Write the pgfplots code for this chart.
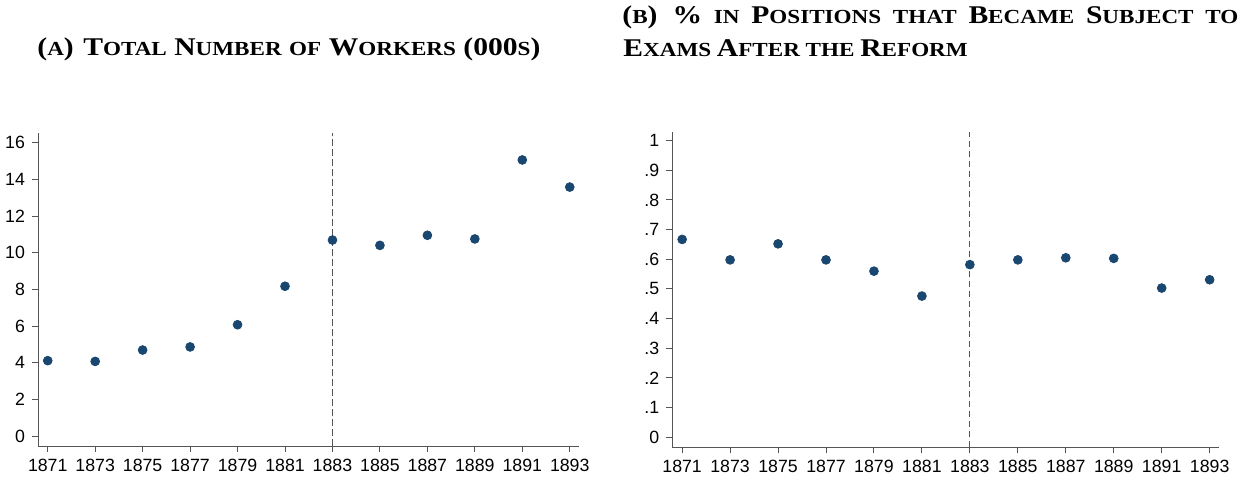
\documentclass[border=0pt]{standalone}
\usepackage{fontspec}
\setmainfont{Liberation Sans}
\newfontfamily\titlefont[FakeStretch=1.16]{Liberation Serif}
\usepackage{pgfplots}
\pgfplotsset{compat=1.18}
\definecolor{navy}{HTML}{1A476F}
\definecolor{axgray}{HTML}{555555}
\newcommand\C[1]{{\fontsize{12.8}{14}\selectfont #1}}
\pgfplotsset{stata/.style={
  scale only axis,
  axis x line*=bottom, axis y line*=left,
  axis line style={axgray, line width=0.5bp},
  tick style={axgray, line width=0.5bp},
  tick align=outside, major tick length=3bp,
  xtick={1871,1873,1875,1877,1879,1881,1883,1885,1887,1889,1891,1893},
  xticklabel style={/pgf/number format/1000 sep=},
  /pgf/number format/assume math mode=true,
  ticklabel style={font=\fontsize{8.9}{10}\selectfont, text=black},
  xmin=1870.59, xmax=1893.39,
  anchor=south west,
}}
\pgfplotstableread{
year val
1871 4.11
1873 4.07
1875 4.69
1877 4.86
1879 6.07
1881 8.17
1883 10.69
1885 10.40
1887 10.95
1889 10.75
1891 15.06
1893 13.58
}\tblA
\pgfplotstableread{
year val
1871 0.667
1873 0.598
1875 0.652
1877 0.598
1879 0.560
1881 0.476
1883 0.582
1885 0.598
1887 0.605
1889 0.603
1891 0.503
1893 0.531
}\tblB
\begin{document}
\begin{tikzpicture}
\path[use as bounding box] (0,0) rectangle (624bp,239bp);
\begin{axis}[stata, at={(19bp,16bp)}, width=270.5bp, height=156.5bp,
  ymin=-0.545, ymax=16.53, ytick={0,2,4,6,8,10,12,14,16}]
\addplot[axgray, line width=0.5bp, dash pattern=on 3.3bp off 1.7bp] coordinates {(1883,-0.545) (1883,16.53)};
\addplot[only marks, mark=*, mark size=2.2bp, mark options={draw=navy, fill=navy}] table[x=year, y=val] {\tblA};
\end{axis}
\begin{axis}[stata, at={(336.15bp,15.35bp)}, width=273.35bp, height=157.8bp,
  ymin=-0.0337, ymax=1.03, ytick={0,0.1,0.2,0.3,0.4,0.5,0.6,0.7,0.8,0.9,1},
  yticklabels={0,.1,.2,.3,.4,.5,.6,.7,.8,.9,1}]
\addplot[axgray, line width=0.5bp, dash pattern=on 3.3bp off 1.7bp] coordinates {(1883,-0.0337) (1883,1.03)};
\addplot[only marks, mark=*, mark size=2.2bp, mark options={draw=navy, fill=navy}] table[x=year, y=val] {\tblB};
\end{axis}
\node[anchor=base west, inner sep=0pt, font=\titlefont\bfseries\fontsize{10}{12}\selectfont] at (18.5bp,211bp)
  {\makebox[251.5bp][s]{\C{(}A\C{) T}OTAL \C{N}UMBER OF \C{W}ORKERS \C{(000}S\C{)}}};
\node[anchor=base west, inner sep=0pt, font=\titlefont\bfseries\fontsize{10}{12}\selectfont] at (311bp,227bp)
  {\makebox[308bp][s]{\C{(}B\C{) \%} IN \C{P}OSITIONS THAT \C{B}ECAME \C{S}UBJECT TO}};
\node[anchor=base west, inner sep=0pt, font=\titlefont\bfseries\fontsize{10}{12}\selectfont] at (311.5bp,210.5bp)
  {\C{E}XAMS \C{A}FTER THE \C{R}EFORM};
\end{tikzpicture}
\end{document}
